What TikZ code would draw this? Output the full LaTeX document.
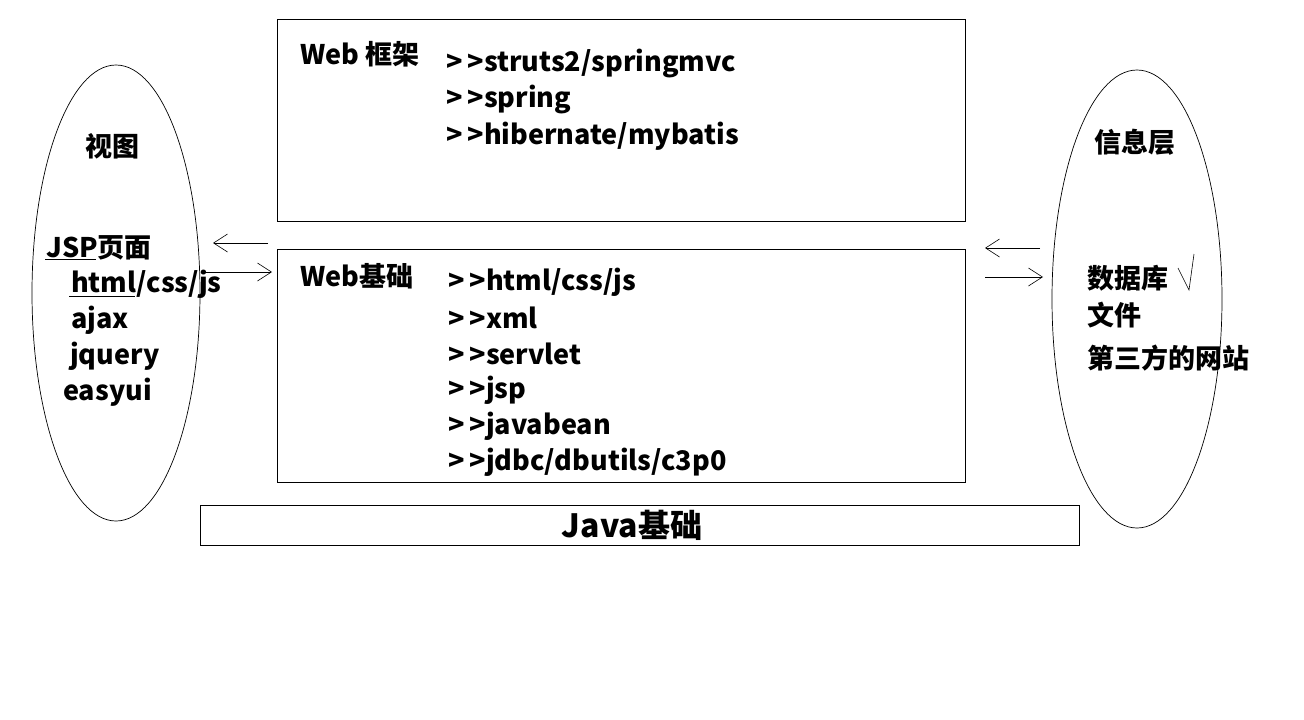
\documentclass[tikz,border=0pt]{standalone}
\usepackage{fontspec}
\setmainfont{Noto Sans CJK SC}
\usetikzlibrary{arrows.meta}
\begin{document}
\begin{tikzpicture}[x=1pt,y=-1pt,
  box/.style={draw,line width=0.9pt},
  oval/.style={draw,line width=0.7pt},
  lbl/.style={anchor=west,inner sep=0pt,font=\fontsize{27}{32}\selectfont\bfseries},
  head/.style={anchor=west,inner sep=0pt,font=\fontsize{27}{32}\selectfont\bfseries},
  arr/.style={line width=0.6pt,-{Straight Barb[length=14pt,width=18pt,line width=0.6pt]}}]
\useasboundingbox (0,0) rectangle (1304,720);
% boxes
\node[box,minimum width=688pt,minimum height=202pt,inner sep=0pt,anchor=north west] (fw) at (277,19) {};
\node[box,minimum width=688pt,minimum height=233pt,inner sep=0pt,anchor=north west] (base) at (277,249) {};
\node[box,minimum width=879pt,minimum height=40pt,inner sep=0pt,anchor=north west] (java) at (200,505) {};
\node[font=\fontsize{32}{36}\selectfont\bfseries,inner sep=0pt] (javat) at (632,525) {Java基础};
% ellipses
\draw[oval] (116,293) ellipse [x radius=84, y radius=228];
\coordinate (lv) at (116,293);
\draw[oval] (1137,299) ellipse [x radius=85, y radius=229];
\coordinate (rv) at (1137,299);
% left texts
\node[head,anchor=center] (view) at (112,146) {视图};
\node[lbl] (jsp) at (46,248) {JSP页面};
\node[lbl] (hcj) at (71,284) {html/css/js};
\node[lbl] (ajax) at (71,320) {ajax};
\node[lbl] (jq) at (70,356) {jquery};
\node[lbl] (eui) at (63,392) {easyui};
\draw[line width=0.8pt] (45,259) -- (96,259);
\draw[line width=0.8pt] (69,296) -- (135,296);
% framework
\node[head] (fwt) at (300,54) {Web 框架};
\node[lbl] (f1) at (446,64) {>\kern5pt>struts2/springmvc};
\node[lbl] (f2) at (446,100) {>\kern5pt>spring};
\node[lbl] (f3) at (446,136) {>\kern5pt>hibernate/mybatis};
% base
\node[head] (bt) at (300,276) {Web基础};
\node[lbl] (b1) at (448,282) {>\kern5pt>html/css/js};
\node[lbl] (b2) at (448,318) {>\kern5pt>xml};
\node[lbl] (b3) at (448,354) {>\kern5pt>servlet};
\node[lbl] (b4) at (448,390) {>\kern5pt>jsp};
\node[lbl] (b5) at (448,426) {>\kern5pt>javabean};
\node[lbl] (b6) at (448,462) {>\kern5pt>jdbc/dbutils/c3p0};
% right texts
\node[head,anchor=center] (info) at (1135,142) {信息层};
\node[lbl] (db) at (1087,278) {数据库};
\node[lbl] (file) at (1087,315) {文件};
\node[lbl] (web3) at (1087,358) {第三方的网站};
\draw[line width=0.6pt] (1178,268) -- (1189,290) -- (1194,254);
% arrows
\coordinate (a1s) at (268,243); \coordinate (a1e) at (213,243);
\coordinate (a2s) at (205,272); \coordinate (a2e) at (272,272);
\coordinate (a3s) at (1040,248); \coordinate (a3e) at (985,248);
\coordinate (a4s) at (985,277); \coordinate (a4e) at (1043,277);
\draw[arr] (a1s) -- (a1e);
\draw[arr] (a2s) -- (a2e);
\draw[arr] (a3s) -- (a3e);
\draw[arr] (a4s) -- (a4e);
\end{tikzpicture}
\end{document}
